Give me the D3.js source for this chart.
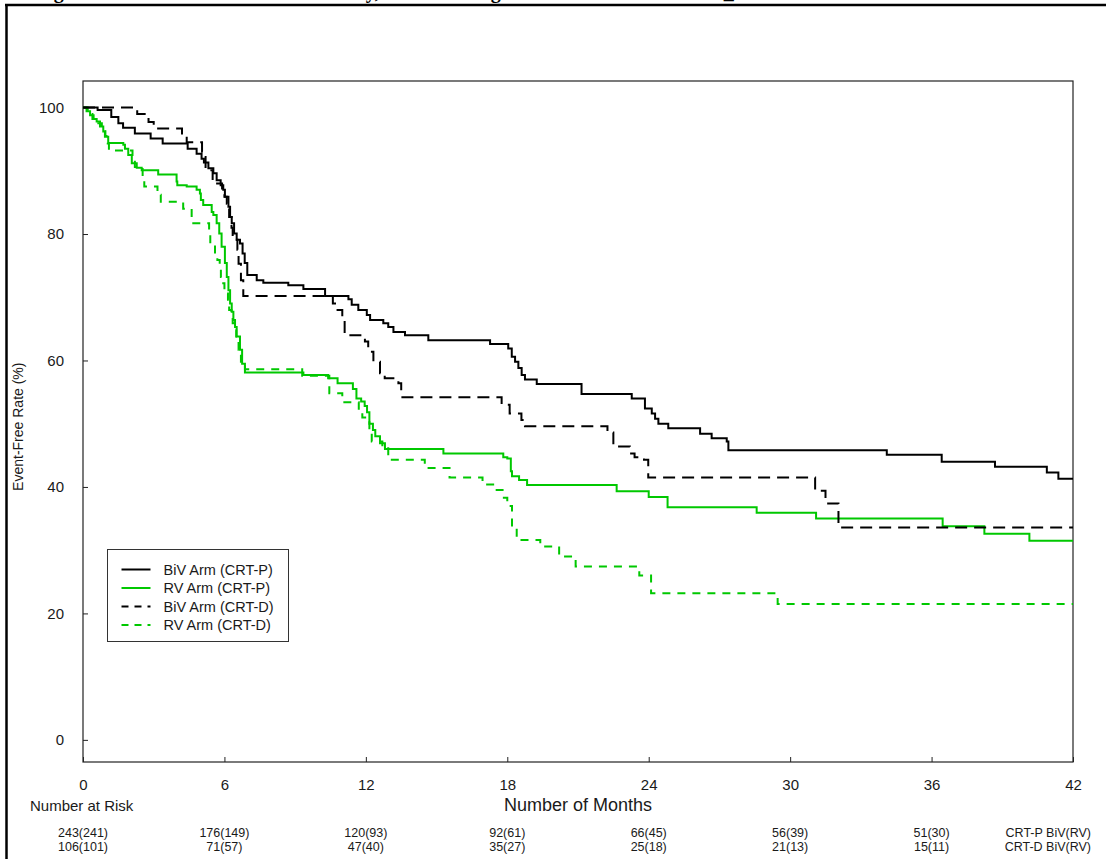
<!DOCTYPE html>
<html>
<head>
<meta charset="utf-8">
<script src="https://cdn.jsdelivr.net/npm/d3@7"></script>
<style>
  body { margin: 0; background: #fff; }
  text { font-family: "Liberation Sans", Arial, sans-serif; fill: #1a1a1a; }
</style>
</head>
<body>
<div id="chart"></div>
<script>
// Kaplan-Meier step curves, [month, event-free %]
var bivCrtP = [[0,100],[0.62,99.6],[1.2,98.5],[1.5,97.5],[1.7,96.8],[2.2,95.9],[2.87,95.1],[3.38,94.3],
  [4.44,93.5],[4.82,92.7],[5.03,91.9],[5.13,91.3],[5.32,90.4],[5.53,89.6],[5.67,88.5],[5.84,87.7],
  [5.95,87.0],[6.02,85.9],[6.17,84.3],[6.24,82.7],[6.31,81.7],[6.41,80.1],[6.52,79.1],[6.66,78.5],
  [6.77,76.9],[6.86,75.4],[6.97,73.5],[7.37,72.7],[7.65,72.3],[8.71,71.9],[9.35,71.3],[10.27,70.2],
  [11.26,69.7],[11.4,68.8],[11.68,68.0],[12.04,67.2],[12.18,66.4],[12.74,65.9],[12.95,65.3],[13.17,64.5],
  [13.66,64.0],[14.65,63.2],[17.27,62.6],[18.04,61.9],[18.19,60.6],[18.33,59.8],[18.47,58.8],[18.61,57.7],
  [18.75,57.0],[19.25,56.3],[21.15,54.7],[23.28,54.0],[23.84,52.4],[24.13,51.6],[24.27,50.8],[24.41,50.0],
  [24.83,49.3],[26.18,48.4],[26.67,47.7],[27.31,47.2],[27.38,45.8],[34.1,45.1],[36.43,44.0],[38.69,43.2],
  [40.89,42.3],[41.38,41.3],[42,41.3]];

var rvCrtP = [[0,100],[0.15,99.4],[0.3,98.8],[0.45,98.2],[0.58,97.8],[0.72,97.0],[0.86,96.2],[0.93,95.4],
  [1.07,94.4],[1.71,94.1],[1.78,93.5],[1.92,92.5],[2.07,91.2],[2.28,90.5],[2.49,90.1],[3.19,89.4],
  [3.97,88.3],[4.0,87.7],[4.4,87.5],[4.82,87.0],[4.96,86.4],[5.0,85.4],[5.1,84.6],[5.46,83.5],[5.53,83.0],
  [5.67,81.7],[5.78,80.1],[5.88,78.0],[6.02,75.4],[6.1,73.2],[6.17,71.1],[6.24,69.0],[6.31,67.7],[6.38,66.4],
  [6.45,65.3],[6.52,63.8],[6.66,61.7],[6.75,59.5],[6.87,58.1],[9.35,57.7],[10.4,57.2],[10.8,56.4],
  [11.45,55.5],[11.6,54.0],[11.8,53.5],[11.95,52.8],[12.05,51.8],[12.15,50.0],[12.3,49.0],[12.4,48.0],
  [12.6,46.9],[12.81,46.0],[15.29,45.3],[17.83,44.7],[18.0,44.5],[18.15,42.5],[18.2,41.7],[18.5,41.1],
  [18.84,40.3],[22.64,39.3],[24.0,38.4],[24.8,36.8],[28.58,35.9],[31.1,35.0],[36.47,33.8],[38.24,32.6],
  [40.15,31.5],[42,31.5]];

var bivCrtD = [[0,100],[2.3,99.0],[2.78,97.7],[3.0,96.7],[4.2,95.7],[4.4,94.5],[5.05,93.0],[5.1,92.2],
  [5.2,90.1],[5.5,88.0],[5.9,87.0],[6.0,85.9],[6.1,84.8],[6.2,82.7],[6.3,81.0],[6.35,79.1],[6.55,77.5],
  [6.6,75.3],[6.7,72.7],[6.8,70.2],[10.6,69.0],[10.8,68.0],[11.0,66.4],[11.1,64.0],[11.96,63.0],[12.1,61.4],
  [12.32,59.8],[12.6,58.0],[12.8,57.2],[13.38,56.4],[13.5,54.2],[17.76,53.0],[18.1,51.6],[18.6,50.6],
  [18.75,49.6],[22.25,48.6],[22.5,46.4],[23.2,45.3],[23.4,44.7],[23.8,44.3],[23.98,41.5],[31.06,39.4],
  [31.5,37.4],[32.05,33.6],[42,33.6]];

var rvCrtD = [[0,100],[0.2,99.0],[0.4,98.2],[0.65,97.5],[0.8,96.5],[0.95,95.5],[1.05,94.3],[1.1,93.2],
  [2.1,92.2],[2.2,90.6],[2.53,88.5],[2.6,87.5],[3.16,86.2],[3.3,85.1],[4.25,84.0],[4.61,81.7],[5.35,80.0],
  [5.4,78.5],[5.6,76.9],[5.7,75.9],[5.8,74.8],[5.85,73.2],[5.95,72.2],[6.0,70.6],[6.15,69.6],[6.2,68.0],
  [6.3,66.9],[6.35,65.9],[6.45,64.8],[6.5,63.8],[6.6,61.7],[6.7,59.8],[6.87,58.6],[9.3,57.6],[10.45,54.8],
  [11.0,53.4],[11.7,52.2],[11.85,51.0],[12.15,48.5],[12.25,47.2],[12.7,46.1],[12.95,44.3],[14.5,43.0],
  [15.55,41.5],[16.95,40.4],[17.55,39.5],[17.8,38.3],[18.0,37.0],[18.2,33.5],[18.4,31.6],[19.4,30.6],
  [20.2,29.0],[20.9,27.4],[23.6,26.0],[24.1,23.2],[29.47,21.5],[42,21.5]];

var seriesNames = ["BiV Arm (CRT-P)", "RV Arm (CRT-P)", "BiV Arm (CRT-D)", "RV Arm (CRT-D)"];

var xTicks = [0, 6, 12, 18, 24, 30, 36, 42];
var yTicks = [0, 20, 40, 60, 80, 100];

var riskTimes = [0, 6, 12, 18, 24, 30, 36];
var riskCrtP = ["243(241)", "176(149)", "120(93)", "92(61)", "66(45)", "56(39)", "51(30)"];
var riskCrtD = ["106(101)", "71(57)", "47(40)", "35(27)", "25(18)", "21(13)", "15(11)"];
var riskRowLabels = ["CRT-P BiV(RV)", "CRT-D BiV(RV)"];

var svgWidth = 1106;
var svgHeight = 859;
var margin = { top: 81, right: 33, bottom: 97, left: 83 };
var width = svgWidth - margin.left - margin.right;
var height = svgHeight - margin.top - margin.bottom;

var green = "#00c800";

var svg = d3.select("#chart")
  .append("svg")
  .attr("width", svgWidth)
  .attr("height", svgHeight);

// page frame + report title (only its lowest part is inside the page, as in the source)
svg.append("text")
  .attr("x", 36)
  .attr("y", -2)
  .style("font-family", "'Liberation Serif', 'Times New Roman', serif")
  .style("font-weight", "bold")
  .style("font-size", "20px")
  .style("fill", "#000")
  .text("Figure 11. Event-Free Survival Primary, All Excluding Deaths and Heart Failure_Set");

svg.append("line")
  .attr("x1", 5).attr("x2", svgWidth)
  .attr("y1", 5).attr("y2", 5)
  .attr("stroke", "#000").attr("stroke-width", 2.5);
svg.append("line")
  .attr("x1", 6.5).attr("x2", 6.5)
  .attr("y1", 4).attr("y2", svgHeight)
  .attr("stroke", "#000").attr("stroke-width", 2.5);

var chartGroup = svg.append("g")
  .attr("transform", `translate(${margin.left}, ${margin.top})`);

var xScale = d3.scaleLinear().domain([0, 42]).range([0, width]);
var yScale = d3.scaleLinear().domain([-3.5, 104.2]).range([height, 0]);

// axes, ticks pointing inward
var bottomAxis = d3.axisBottom(xScale).tickValues(xTicks).tickSize(-5).tickPadding(17);
var leftAxis = d3.axisLeft(yScale).tickValues(yTicks).tickSize(-5).tickPadding(19);

var xg = chartGroup.append("g")
  .attr("transform", `translate(0, ${height})`)
  .call(bottomAxis);
var yg = chartGroup.append("g").call(leftAxis);

[xg, yg].forEach(function(g) {
  g.select(".domain").remove();
  g.selectAll(".tick line").attr("stroke", "#222");
  g.selectAll(".tick text")
    .style("font-family", "'Liberation Sans', Arial, sans-serif")
    .style("font-size", "15px")
    .style("fill", "#1a1a1a");
});

chartGroup.append("rect")
  .attr("x", 0).attr("y", 0)
  .attr("width", width).attr("height", height)
  .attr("fill", "none")
  .attr("stroke", "#222")
  .attr("stroke-width", 1.2);

// curves
var kmLine = d3.line()
  .x(d => xScale(d[0]))
  .y(d => yScale(d[1]))
  .curve(d3.curveStepAfter);

var curves = [
  { data: rvCrtD, color: green, dash: "8,7" },
  { data: rvCrtP, color: green, dash: null },
  { data: bivCrtD, color: "#000", dash: "12,7" },
  { data: bivCrtP, color: "#000", dash: null }
];

chartGroup.selectAll(".km")
  .data(curves)
  .enter()
  .append("path")
  .attr("class", "km")
  .attr("d", d => kmLine(d.data))
  .attr("fill", "none")
  .attr("stroke", d => d.color)
  .attr("stroke-width", 2)
  .attr("stroke-dasharray", d => d.dash);

// legend
var legendItems = [
  { name: seriesNames[0], color: "#000", dash: null },
  { name: seriesNames[1], color: green, dash: null },
  { name: seriesNames[2], color: "#000", dash: "7,6" },
  { name: seriesNames[3], color: green, dash: "7,6" }
];

var legend = svg.append("g").attr("transform", "translate(107.5, 549.5)");
legend.append("rect")
  .attr("width", 181).attr("height", 92)
  .attr("fill", "#fff")
  .attr("stroke", "#333")
  .attr("stroke-width", 1);

var legendRow = legend.selectAll(".lrow")
  .data(legendItems)
  .enter()
  .append("g")
  .attr("class", "lrow")
  .attr("transform", (d, i) => `translate(0, ${20 + i * 18.5})`);

legendRow.append("line")
  .attr("x1", 14).attr("x2", 43)
  .attr("stroke", d => d.color)
  .attr("stroke-width", 2)
  .attr("stroke-dasharray", d => d.dash);

legendRow.append("text")
  .attr("x", 56)
  .attr("dy", "0.35em")
  .style("font-size", "14.5px")
  .text(d => d.name);

// axis titles
chartGroup.append("text")
  .attr("transform", "rotate(-90)")
  .attr("x", -(yScale(50) + 3))
  .attr("y", -60)
  .attr("text-anchor", "middle")
  .style("font-size", "14px")
  .text("Event-Free Rate (%)");

chartGroup.append("text")
  .attr("x", width / 2)
  .attr("y", height + 49)
  .attr("text-anchor", "middle")
  .style("font-size", "18px")
  .text("Number of Months");

svg.append("text")
  .attr("x", 30)
  .attr("y", 811)
  .style("font-size", "15px")
  .text("Number at Risk");

// number at risk table
var riskRows = [riskCrtP, riskCrtD];
riskRows.forEach(function(row, r) {
  chartGroup.selectAll(".risk" + r)
    .data(riskTimes)
    .enter()
    .append("text")
    .attr("class", "risk" + r)
    .attr("x", d => xScale(d))
    .attr("y", height + 75 + r * 14)
    .attr("text-anchor", "middle")
    .style("font-size", "12.5px")
    .text((d, i) => row[i]);
});

chartGroup.selectAll(".rowlab")
  .data(riskRowLabels)
  .enter()
  .append("text")
  .attr("class", "rowlab")
  .attr("x", width + 18)
  .attr("y", (d, i) => height + 75 + i * 14)
  .attr("text-anchor", "end")
  .style("font-size", "12.5px")
  .text(d => d);
</script>
</body>
</html>
